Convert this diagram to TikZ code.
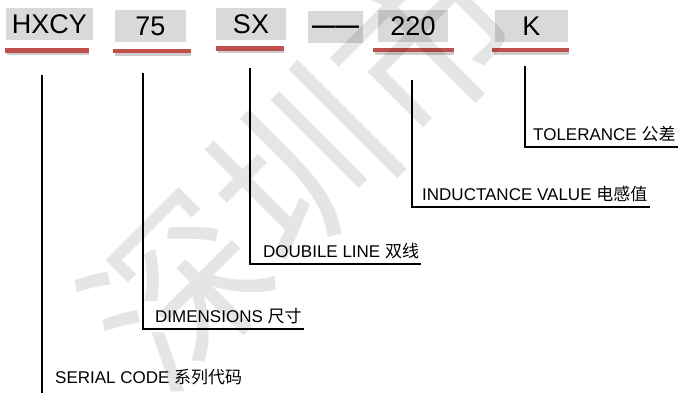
\documentclass[tikz,border=0pt]{standalone}
\usepackage{fontspec}
\setmainfont{Liberation Sans}
\newfontfamily\cjk{Noto Sans CJK SC}
\usepackage{tikz,xcolor}
\usetikzlibrary{calc}
\definecolor{boxgray}{HTML}{D9D9D9}
\definecolor{barred}{HTML}{C0504D}
\NewDocumentCommand\redbar{mmm}{%
  \draw[line width=3pt,black!20] (#1+2,#3+3) -- (#2,#3+3);
  \draw[line width=4.5pt,barred] (#1,#3) -- (#2,#3);}

\begin{document}
\begin{tikzpicture}[x=1pt,y=-1pt,
    codebox/.style={fill=boxgray,minimum height=32pt,inner sep=0pt,
      font=\fontsize{27}{30}\selectfont,text height=19.5pt,text depth=0pt},
    lead/.style={line width=1.8pt},
    lbl/.style={anchor=south west,inner xsep=2pt,inner ysep=0pt,
      text depth=6.5pt,font=\fontsize{17}{20}\selectfont}]
            \useasboundingbox (0,0) rectangle (678,392);
            \fill[white] (0,0) rectangle (678,392);
            % code boxes
            \node[codebox,minimum width=87pt] (hxcy) at (49.5,24) {HXCY};
            \node[codebox,minimum width=71pt] (size) at (150.5,26) {75};
            \node[codebox,minimum width=70pt] (wire) at (251,24) {SX};
            \node[codebox,minimum width=55pt,text height=14pt] (dash) at (335.5,26.5) {\fontsize{23.5}{24}\selectfont\bfseries ——};
            \node[codebox,minimum width=70pt] (ind) at (413,26) {220};
            \node[codebox,minimum width=73pt] (tol) at (531.5,26) {K};
            \redbar{5}{89}{50.5}
            \redbar{113}{191}{51}
            \redbar{216}{284}{48.5}
            \redbar{373}{454}{50}
            \redbar{492}{569}{50}
            % leader tops
            \coordinate (hxcytop) at (42,75);
            \coordinate (sizetop) at (143,73);
            \coordinate (wiretop) at (250,68);
            \coordinate (indtop) at (412,80);
            \coordinate (toltop) at (525,66);
            % labels
            \node[lbl,text depth=13pt] (serial) at (53,397) {SERIAL CODE {\cjk 系列代码}};
            \node[lbl] (dim) at (153,329) {DIMENSIONS {\cjk 尺寸}};
            \node[lbl] (dbl) at (261,264) {DOUBILE LINE {\cjk 双线}};
            \node[lbl] (indval) at (420,207) {INDUCTANCE VALUE {\cjk 电感值}};
            \node[lbl] (tolval) at (531,147) {TOLERANCE {\cjk 公差}};
            \draw[lead] (hxcytop) |- (serial.south east);
            \draw[lead] (sizetop) |- (dim.south east);
            \draw[lead] (wiretop) |- (dbl.south east);
            \draw[lead] (indtop) |- (indval.south east);
            \draw[lead] (toltop) |- (tolval.south east);
            % watermark
            \node[rotate=45,text=black,opacity=0.1,font=\cjk\fontsize{175}{175}\selectfont] (mark) at (300,165) {深圳市};
        \end{tikzpicture}
\end{document}
